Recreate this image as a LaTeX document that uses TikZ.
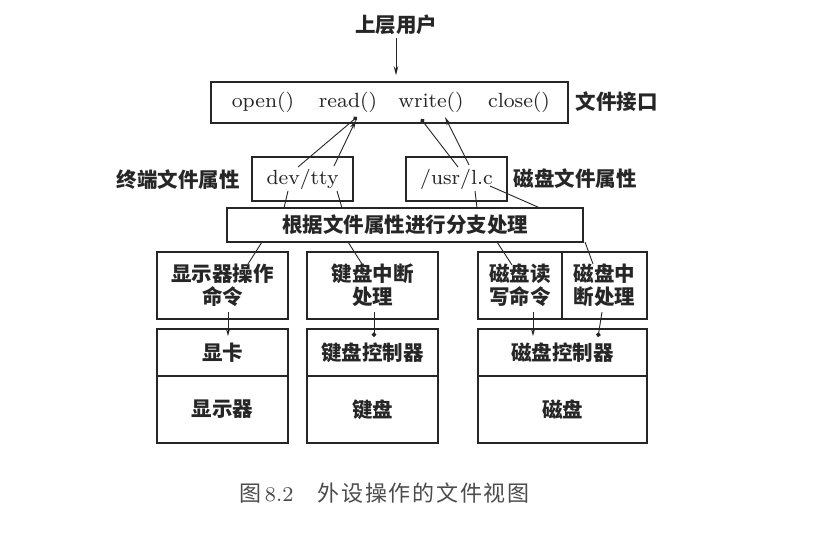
\documentclass[tikz,border=0pt]{standalone}
\usepackage{fontspec}
\newfontfamily\cjk{Noto Sans CJK SC}
\newfontfamily\capfont{Noto Sans CJK SC}[LetterSpace=8]
\newfontfamily\lmeight{lmroman8-regular.otf}
\usetikzlibrary{arrows.meta}
\definecolor{ink}{gray}{0.15}
\definecolor{capink}{gray}{0.3}
\begin{document}
\begin{tikzpicture}[x=1pt,y=-1pt,
  box/.style={draw=ink,line width=1.5pt,inner sep=0pt,anchor=center},
  zh/.style={font=\cjk\bfseries\fontsize{20.5}{23}\selectfont,text=ink,align=center},
  en/.style={font=\lmeight\fontsize{20.5}{25}\selectfont,text=ink},
  conn/.style={draw=ink,line width=0.9pt},
  arr/.style={conn,-{Stealth[length=9pt,width=4.5pt]}},
  sarr/.style={conn,-{Stealth[length=7pt,width=4pt]}},
  dotE/.style={conn,-{Circle[length=4.6pt]}},
  dotS/.style={conn,{Circle[length=4.6pt]}-}]
\useasboundingbox[fill=white] (0,0) rectangle (817,543);

% top
\node[zh] (user) at (396,25) {上层用户};
\node[box,minimum width=357pt,minimum height=41pt] (fi) at (389.5,102.5) {};
\node[en] (op) at (263,102) {open()};
\node[en] (rd) at (348,102) {read()};
\node[en] (wr) at (431,102) {write()};
\node[en] (cl) at (519,102) {close()};
\node[zh,anchor=west] (lfi) at (572,102) {文件接口};
\draw[arr,shorten >=6pt] (user.south) -- (user.south |- fi.north);

% attribute boxes
\node[box,en,minimum width=101pt,minimum height=44pt] (tty) at (302.5,179) {dev/tty};
\node[box,en,minimum width=101pt,minimum height=44pt] (usr) at (456.5,179) {/usr/l.c};
\node[zh] (ltty) at (178,180) {终端文件属性};
\node[zh] (lusr) at (575,179) {磁盘文件属性};

\node[box,zh,minimum width=356pt,minimum height=34pt] (br) at (405,225) {根据文件属性进行分支处理};

% row 1
\node[box,zh,minimum width=131pt,minimum height=67pt] (dcmd) at (222.5,285.5) {显示器操作\\命令};
\node[box,zh,minimum width=131pt,minimum height=67pt] (kint) at (372.5,285.5) {键盘中断\\处理};
\node[box,zh,minimum width=84pt,minimum height=67pt] (drw) at (520,285.5) {磁盘读\\写命令};
\node[box,zh,minimum width=85pt,minimum height=67pt] (dint) at (604.5,285.5) {磁盘中\\断处理};

% row 2
\node[box,zh,minimum width=131pt,minimum height=47pt] (gc) at (222.5,352.5) {显卡};
\node[box,zh,minimum width=131pt,minimum height=67pt] (mon) at (222.5,409.5) {显示器};
\node[box,zh,minimum width=131pt,minimum height=47pt] (kc) at (372.5,352.5) {键盘控制器};
\node[box,zh,minimum width=131pt,minimum height=67pt] (kb) at (372.5,409.5) {键盘};
\node[box,zh,minimum width=169pt,minimum height=47pt] (dc) at (562.5,352.5) {磁盘控制器};
\node[box,zh,minimum width=169pt,minimum height=67pt] (disk) at (562.5,409.5) {磁盘};

% caption
\node[font=\capfont\fontsize{22}{26}\selectfont,text=capink] (cap) at (384.5,493)
  {图\,{\lmeight\fontsize{21}{26}\selectfont 8.2}\hspace{1.1em}外设操作的文件视图};

% connectors between interface and attribute boxes
\coordinate (rdA) at (357,117); \coordinate (ttyA) at (298,167);
\draw[dotS] (rdA) -- (ttyA);
\coordinate (ttyB) at (334,166); \coordinate (rdB) at (356,120);
\draw[arr] (ttyB) -- (rdB);
\coordinate (wrA) at (421,119); \coordinate (usrA) at (458,167);
\draw[dotS] (wrA) -- (usrA);
\coordinate (usrB) at (469,165); \coordinate (wrB) at (445,117);
\draw[arr] (usrB) -- (wrB);

% attribute boxes to branch box
\coordinate (t1) at (288,191); \coordinate (b1) at (284,208);
\coordinate (t2) at (337,191); \coordinate (b2) at (342,208);
\coordinate (u1) at (475,191); \coordinate (b3) at (477,208);
\coordinate (u2) at (490,186); \coordinate (b4) at (540,208);
\draw[conn] (t1) -- (b1);
\draw[conn] (t2) -- (b2);
\draw[conn] (u1) -- (b3);
\draw[conn] (u2) -- (b4);

% branch box to row 1
\coordinate (c1) at (262,242); \coordinate (d1) at (248,264);
\coordinate (c2) at (348,242); \coordinate (d2) at (362,264);
\coordinate (c3) at (497,242); \coordinate (d3) at (512,265);
\coordinate (c4) at (585,242); \coordinate (d4) at (593,264);
\draw[conn] (c1) -- (d1);
\draw[conn] (c2) -- (d2);
\draw[conn] (c3) -- (d3);
\draw[conn] (c4) -- (d4);

% row 1 to row 2
\coordinate (e1) at (228,312); \coordinate (f1) at (228,336);
\coordinate (e2) at (374,312); \coordinate (f2) at (374,337);
\coordinate (e3) at (533,312); \coordinate (f3) at (533,336);
\coordinate (e4) at (602,312); \coordinate (f4) at (598,337);
\draw[sarr] (e1) -- (f1);
\draw[dotE] (e2) -- (f2);
\draw[sarr] (e3) -- (f3);
\draw[dotE] (e4) -- (f4);
\end{tikzpicture}
\end{document}
